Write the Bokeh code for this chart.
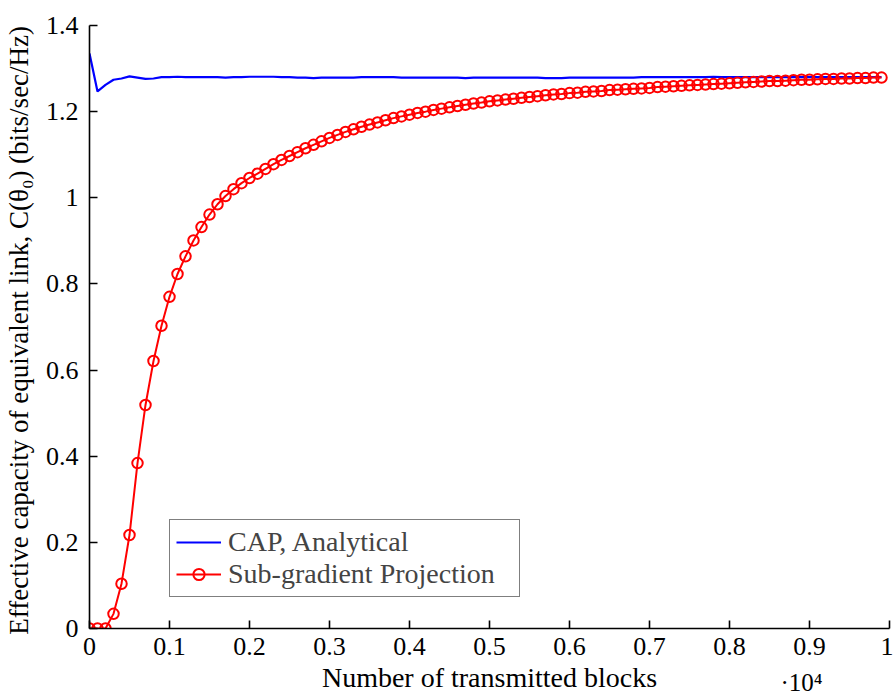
from bokeh.plotting import figure
from bokeh.models import (FixedTicker, CustomJSTickFormatter, Legend, LegendItem,
                          LinearAxis, Range1d)
from bokeh.embed import file_html
from bokeh.resources import INLINE

# ---- data ----
blocks = list(range(0, 10000, 100))

sub_gradient = [
    0.000, 0.000, 0.000, 0.034, 0.104, 0.217, 0.384, 0.519, 0.621, 0.703,
    0.770, 0.823, 0.864, 0.901, 0.932, 0.961, 0.985, 1.004, 1.020, 1.034,
    1.046, 1.056, 1.067, 1.078, 1.088, 1.097, 1.106, 1.115, 1.123, 1.131,
    1.139, 1.146, 1.153, 1.159, 1.165, 1.170, 1.175, 1.180, 1.185, 1.189,
    1.193, 1.197, 1.200, 1.204, 1.207, 1.210, 1.213, 1.216, 1.219, 1.221,
    1.224, 1.226, 1.228, 1.230, 1.232, 1.234, 1.236, 1.238, 1.240, 1.241,
    1.243, 1.244, 1.246, 1.247, 1.248, 1.250, 1.251, 1.252, 1.253, 1.254,
    1.255, 1.257, 1.258, 1.259, 1.260, 1.261, 1.262, 1.263, 1.264, 1.265,
    1.266, 1.267, 1.268, 1.269, 1.270, 1.271, 1.271, 1.272, 1.273, 1.274,
    1.274, 1.275, 1.276, 1.276, 1.277, 1.277, 1.278, 1.278, 1.279, 1.279,
]

cap_analytical = [
    1.335, 1.247, 1.262, 1.274, 1.277, 1.282, 1.279, 1.276, 1.277, 1.280,
    1.280, 1.281, 1.280, 1.280, 1.280, 1.280, 1.280, 1.279, 1.280, 1.280,
    1.281, 1.281, 1.281, 1.281, 1.280, 1.280, 1.279, 1.279, 1.278, 1.279,
    1.279, 1.279, 1.279, 1.279, 1.280, 1.280, 1.280, 1.280, 1.280, 1.279,
    1.279, 1.279, 1.279, 1.279, 1.279, 1.279, 1.279, 1.278, 1.279, 1.279,
    1.279, 1.279, 1.279, 1.279, 1.279, 1.279, 1.279, 1.278, 1.278, 1.278,
    1.279, 1.279, 1.279, 1.279, 1.279, 1.279, 1.279, 1.279, 1.279, 1.280,
    1.280, 1.280, 1.280, 1.280, 1.280, 1.280, 1.280, 1.280, 1.281, 1.280,
    1.280, 1.280, 1.280, 1.280, 1.280, 1.280, 1.280, 1.280, 1.280, 1.280,
    1.280, 1.280, 1.280, 1.280, 1.280, 1.280, 1.280, 1.280, 1.280, 1.280,
]

x_ticks = [0, 1000, 2000, 3000, 4000, 5000, 6000, 7000, 8000, 9000, 10000]
y_ticks = [0, 0.2, 0.4, 0.6, 0.8, 1.0, 1.2, 1.4]
x_title = "Number of transmitted blocks"
x_title_pos = [5000]
x_multiplier_text = "·10⁴"
x_multiplier_pos = [8900]
y_title = "Effective capacity of equivalent link, C(θ₀)  (bits/sec/Hz)"

FONT = "Liberation Serif"

p = figure(width=893, height=699, output_backend="svg", toolbar_location=None,
           x_range=Range1d(0, 10000), y_range=Range1d(0, 1.4),
           min_border_left=88, min_border_right=4, min_border_top=25, min_border_bottom=71)
p.outline_line_color = None
p.grid.visible = False
p.background_fill_color = "white"

blue = p.line(blocks, cap_analytical, line_color="blue", line_width=2.2)
red_line = p.line(blocks, sub_gradient, line_color="red", line_width=2)
red_pts = p.scatter(blocks, sub_gradient, marker="circle", size=10.5, fill_color=None,
                    line_color="red", line_width=2)

for ax in (p.xaxis[0], p.yaxis[0]):
    ax.axis_line_color = "black"
    ax.axis_line_width = 1.6
    ax.major_tick_line_color = "black"
    ax.major_tick_line_width = 1.6
    ax.major_tick_in = 8
    ax.major_tick_out = 0
    ax.minor_tick_line_color = None
    ax.major_label_text_font = FONT
    ax.major_label_text_font_size = "26px"
    ax.major_label_text_color = "black"
    ax.axis_label_text_font = FONT
    ax.axis_label_text_font_style = "normal"
    ax.axis_label_text_color = "black"

p.yaxis.axis_label_text_font_size = "27px"

p.xaxis.ticker = FixedTicker(ticks=x_ticks)
p.yaxis.ticker = FixedTicker(ticks=y_ticks)
p.xaxis.formatter = CustomJSTickFormatter(code="return (tick/10000).toFixed(1).replace(/\\.0$/, '');")
p.yaxis.formatter = CustomJSTickFormatter(code="return tick.toFixed(1).replace(/\\.0$/, '');")
p.xaxis.major_label_standoff = 9
p.yaxis.major_label_standoff = 11
p.yaxis.axis_label = y_title
p.yaxis.axis_label_standoff = 9


def text_row_axis(ticks, text, size, standoff):
    # a lineless, tickless axis whose only tick label carries a text of the x axis
    return LinearAxis(ticker=FixedTicker(ticks=ticks),
                      formatter=CustomJSTickFormatter(code="return '%s';" % text),
                      axis_line_color=None, major_tick_line_color=None,
                      major_tick_in=0, major_tick_out=0,
                      minor_tick_line_color=None, minor_tick_in=0, minor_tick_out=0,
                      major_label_standoff=standoff,
                      major_label_text_font=FONT, major_label_text_font_size=size,
                      major_label_text_color="black")


p.add_layout(text_row_axis(x_title_pos, x_title, "28px", 4), "below")
p.add_layout(text_row_axis(x_multiplier_pos, x_multiplier_text, "25px", -27), "below")

legend = Legend(items=[
    LegendItem(label="CAP, Analytical", renderers=[blue]),
    LegendItem(label="Sub-gradient Projection", renderers=[red_line, red_pts]),
], location=(80, 31))
legend.label_text_font = FONT
legend.label_text_font_size = "28px"
legend.border_line_color = "black"
legend.border_line_width = 1.6
legend.background_fill_alpha = 1
legend.glyph_width = 45
legend.glyph_height = 28
legend.label_standoff = 7
legend.label_width = 285
legend.padding = 6
legend.spacing = 0
legend.margin = 0
p.add_layout(legend)

open("out.html", "w").write(file_html(p, INLINE))
